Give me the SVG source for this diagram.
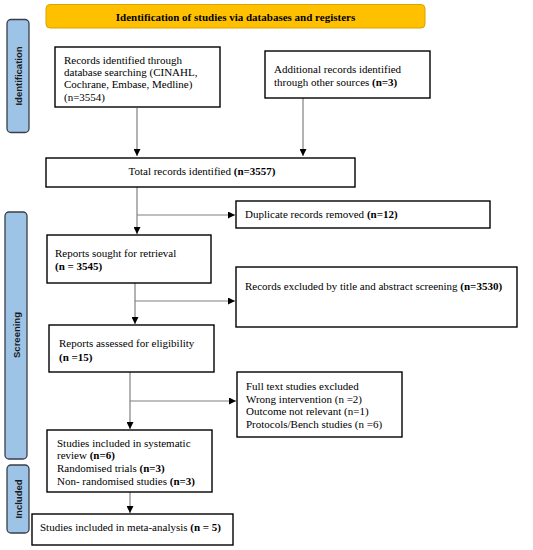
<svg xmlns="http://www.w3.org/2000/svg" width="533" height="550" viewBox="0 0 533 550">
<style>
.box{fill:#fff;stroke:#000;stroke-width:1.4}
.t{font-family:"Liberation Serif","Times New Roman",serif;font-size:11px;fill:#000}
.b{font-weight:bold}
.tab{fill:#9dc3e6;stroke:#3a3f47;stroke-width:1.3}
.tl{font-family:"Liberation Sans",Arial,sans-serif;font-size:9.5px;font-weight:bold;fill:#1a1a1a}
.c{stroke:#808080;stroke-width:1.2;fill:none}
</style>
<defs>
<marker id="ah" viewBox="0 0 10 10" refX="10" refY="5" markerWidth="7" markerHeight="7" markerUnits="userSpaceOnUse" orient="auto">
<path d="M0,0 L10,5 L0,10 z" fill="#000"/>
</marker>
</defs>
<rect width="533" height="550" fill="#fff"/>
<g id="header">
<rect x="46" y="4.5" width="379" height="23.5" rx="4" fill="#ffc000" stroke="#d9a300" stroke-width="1"/>
<text class="t b" x="235.5" y="20.5" text-anchor="middle">Identification of studies via databases and registers</text>
</g>
<g id="tab-identification">
<rect class="tab" x="7" y="19.5" width="22" height="113" rx="4"/>
<text class="tl" transform="translate(21.5,76) rotate(-90)" text-anchor="middle">Identification</text>
</g>
<g id="tab-screening">
<rect class="tab" x="5" y="212" width="22" height="247" rx="4"/>
<text class="tl" transform="translate(19.5,335) rotate(-90)" text-anchor="middle">Screening</text>
</g>
<g id="tab-included">
<rect class="tab" x="7" y="465" width="22" height="68" rx="4"/>
<text class="tl" transform="translate(21.5,499) rotate(-90)" text-anchor="middle">Included</text>
</g>
<g id="connectors">
<line class="c" x1="137" y1="108" x2="137" y2="156" marker-end="url(#ah)"/>
<line class="c" x1="303" y1="98" x2="303" y2="156" marker-end="url(#ah)"/>
<line class="c" x1="137" y1="187" x2="137" y2="234" marker-end="url(#ah)"/>
<line class="c" x1="137" y1="215" x2="235" y2="215" marker-end="url(#ah)"/>
<line class="c" x1="135" y1="283" x2="135" y2="324" marker-end="url(#ah)"/>
<line class="c" x1="135" y1="301" x2="235" y2="301" marker-end="url(#ah)"/>
<line class="c" x1="130" y1="372" x2="130" y2="429" marker-end="url(#ah)"/>
<line class="c" x1="130" y1="401" x2="236" y2="401" marker-end="url(#ah)"/>
<line class="c" x1="130" y1="492" x2="130" y2="513" marker-end="url(#ah)"/>
</g>
<g id="n-records">
<rect class="box" x="55" y="47" width="165" height="60"/>
<text class="t" x="64" y="63.5">Records identified through</text>
<text class="t" x="64" y="75.8">database searching (CINAHL,</text>
<text class="t" x="64" y="88">Cochrane, Embase, Medline)</text>
<text class="t" x="64" y="100.5">(n=3554)</text>
</g>
<g id="n-additional">
<rect class="box" x="265" y="51" width="165" height="47"/>
<text class="t" x="274" y="72.5">Additional records identified</text>
<text class="t" x="274" y="85.5">through other sources <tspan class="b">(n=3)</tspan></text>
</g>
<g id="n-total">
<rect class="box" x="46" y="158" width="309" height="29"/>
<text class="t" x="202" y="175" text-anchor="middle">Total records identified <tspan class="b">(n=3557)</tspan></text>
</g>
<g id="n-duplicates">
<rect class="box" x="236" y="201" width="254" height="27"/>
<text class="t" x="245" y="217.5">Duplicate records removed <tspan class="b">(n=12)</tspan></text>
</g>
<g id="n-sought">
<rect class="box" x="47" y="235" width="164" height="48"/>
<text class="t" x="55" y="256.5">Reports sought for retrieval</text>
<text class="t b" x="55" y="270">(n = 3545)</text>
</g>
<g id="n-excluded-title">
<rect class="box" x="236" y="267" width="281" height="60"/>
<text class="t" x="245" y="289.5">Records excluded by title and abstract screening <tspan class="b">(n=3530)</tspan></text>
</g>
<g id="n-assessed">
<rect class="box" x="49" y="325" width="165" height="47"/>
<text class="t" x="59" y="346.5">Reports assessed for eligibility</text>
<text class="t b" x="59" y="360.5">(n =15)</text>
</g>
<g id="n-fulltext">
<rect class="box" x="237" y="372" width="165" height="65"/>
<text class="t" x="246" y="389.5">Full text studies excluded</text>
<text class="t" x="246" y="402.5">Wrong intervention (n =2)</text>
<text class="t" x="246" y="415">Outcome not relevant (n=1)</text>
<text class="t" x="246" y="428">Protocols/Bench studies (n =6)</text>
</g>
<g id="n-included">
<rect class="box" x="47" y="430" width="165" height="62"/>
<text class="t" x="57" y="446.5">Studies included in systematic</text>
<text class="t" x="57" y="459">review <tspan class="b">(n=6)</tspan></text>
<text class="t" x="57" y="471.5">Randomised trials <tspan class="b">(n=3)</tspan></text>
<text class="t" x="57" y="484.5">Non- randomised studies <tspan class="b">(n=3)</tspan></text>
</g>
<g id="n-meta">
<rect class="box" x="32" y="514" width="201" height="31"/>
<text class="t" x="40" y="530.5">Studies included in meta-analysis <tspan class="b">(n = 5)</tspan></text>
</g>
</svg>
